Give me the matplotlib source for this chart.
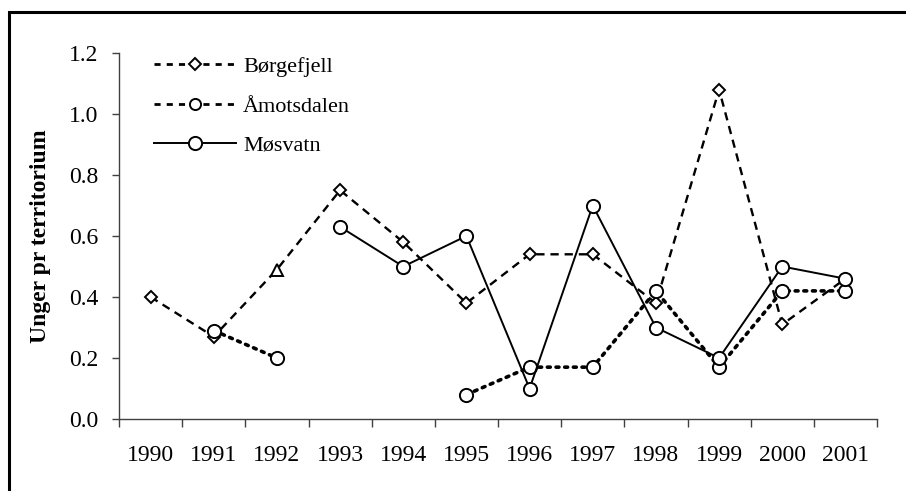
import numpy as np
import matplotlib
matplotlib.use("Agg")
import matplotlib.pyplot as plt
from matplotlib.lines import Line2D
from matplotlib.patches import Rectangle
from matplotlib.ticker import FixedLocator, FormatStrFormatter

# Unger pr territorium per year and area
years = ["1990", "1991", "1992", "1993", "1994", "1995",
         "1996", "1997", "1998", "1999", "2000", "2001"]
borgefjell = [0.40, 0.27, 0.49, 0.75, 0.58, 0.38, 0.54, 0.54, 0.38, 1.08, 0.31, 0.46]
amotsdalen = [np.nan, 0.29, 0.20, np.nan, np.nan, 0.08, 0.17, 0.17, 0.42, 0.17, 0.42, 0.42]
mosvatn = [np.nan, np.nan, np.nan, 0.63, 0.50, 0.60, 0.10, 0.70, 0.30, 0.20, 0.50, 0.46]

serif = "Liberation Serif"
plt.rcParams["font.family"] = serif

fig = plt.figure(figsize=(9.06, 4.91), dpi=100)
ax = fig.add_axes([119 / 906, 72 / 491, 758 / 906, 366 / 491])

x = np.arange(len(years))
mk = dict(markerfacecolor="white", markeredgecolor="black", markeredgewidth=1.4)

# Børgefjell: diamonds, the 1992 point is drawn as a triangle
tri = years.index("1992")
ax.plot(x, borgefjell, color="black", lw=1.7, ls=(0, (3.5, 2.5)),
        marker="D", markersize=6.5, markevery=[i for i in range(len(x)) if i != tri],
        zorder=3, **mk)
ax.plot(x[tri], borgefjell[tri], ls="none", marker="^", markersize=9, zorder=4, **mk)

ax.plot(x, amotsdalen, color="black", lw=2.6, ls=(0, (0.8, 1.6)),
        dash_capstyle="round", marker="o", markersize=9.5, zorder=3, **mk)
ax.plot(x, mosvatn, color="black", lw=1.4, ls="-",
        marker="o", markersize=9.5, zorder=3, **mk)

ax.set_xlim(-0.5, len(years) - 0.5)
ax.set_ylim(0, 1.2)

# category labels centred, tick marks on the boundaries
ax.xaxis.set_major_locator(FixedLocator(x))
ax.set_xticklabels(years)
ax.xaxis.set_minor_locator(FixedLocator(np.arange(-0.5, len(years), 1.0)))
ax.tick_params(axis="x", which="major", length=0, pad=19, labelsize=17)
ax.tick_params(axis="x", which="minor", length=6, width=1, color="#404040", direction="out")

ax.set_yticks(np.arange(0, 1.21, 0.2))
ax.yaxis.set_major_formatter(FormatStrFormatter("%.1f"))
ax.tick_params(axis="y", length=5, width=1, color="#404040", direction="out",
               pad=10, labelsize=17)

for side in ("top", "right"):
    ax.spines[side].set_visible(False)
for side in ("left", "bottom"):
    ax.spines[side].set_color("#404040")
    ax.spines[side].set_linewidth(1)

ax.set_ylabel("Unger pr territorium", fontsize=17, fontweight="bold")
ax.yaxis.set_label_coords(-0.09, 0.5)

handles = [
    Line2D([], [], color="black", lw=2, ls=(0, (2.2, 2.2)), marker="D",
           markersize=6.5, **mk),
    Line2D([], [], color="black", lw=2, ls=(0, (2.2, 2.2)), marker="o",
           markersize=8, **mk),
    Line2D([], [], color="black", lw=1.4, ls="-", marker="o",
           markersize=9.5, **mk),
]
ax.legend(handles, ["Børgefjell", "Åmotsdalen", "Møsvatn"],
          loc="upper left", bbox_to_anchor=(0.02, 1.045), frameon=False,
          fontsize=16, handlelength=3.7, handletextpad=0.3, labelspacing=0.85)

# outer frame around the whole chart
fig.patches.append(Rectangle((9 / 906, -0.2), 1.2, 1.2 - 12 / 491,
                             transform=fig.transFigure, fill=False,
                             edgecolor="black", lw=2.2, clip_on=False))

fig.savefig("out.png", dpi=100)
